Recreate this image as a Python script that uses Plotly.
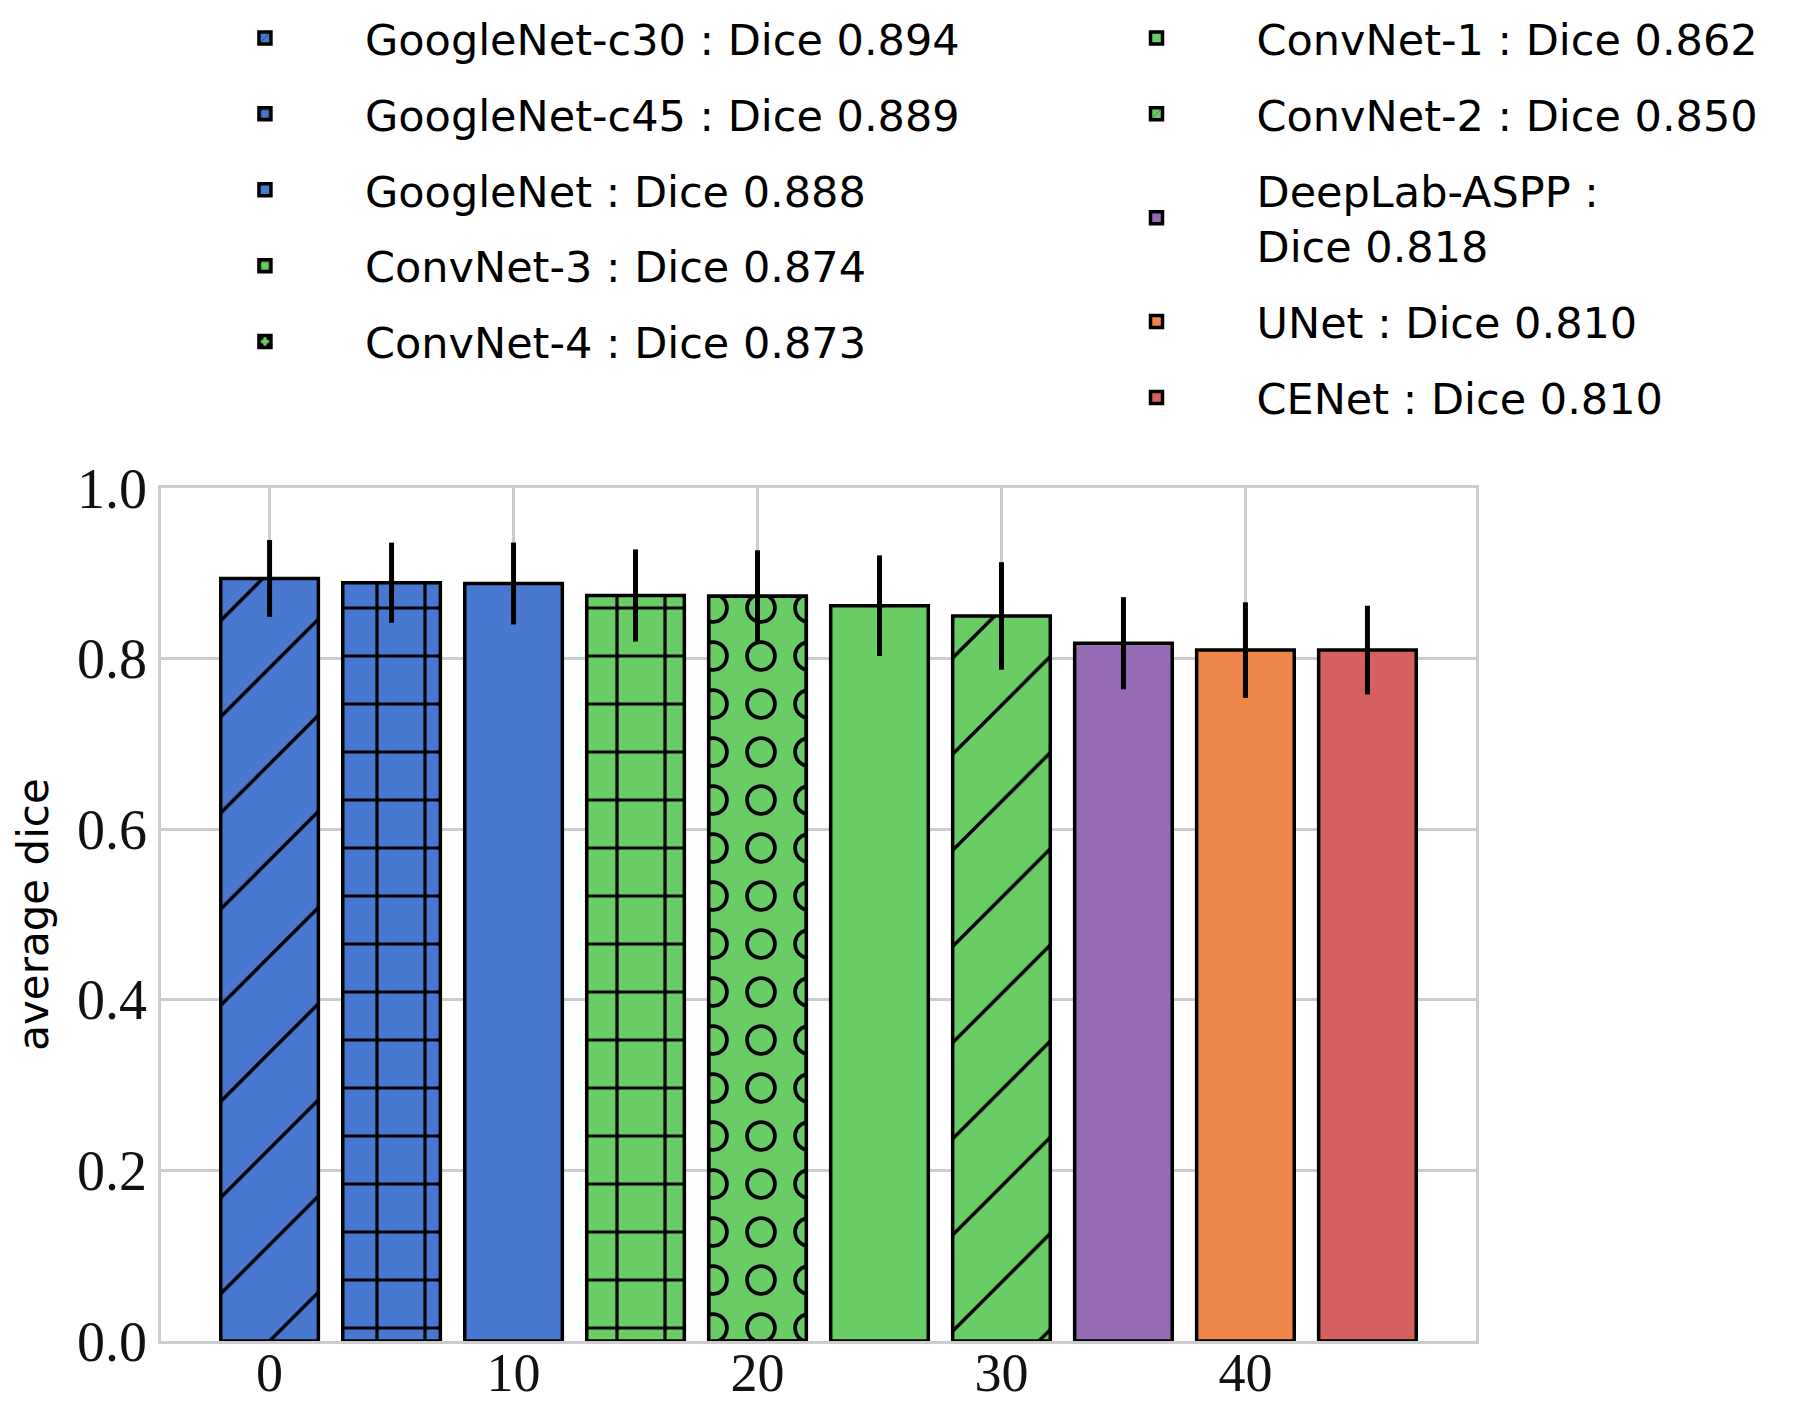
import plotly.graph_objects as go

# ---------------- data ----------------
models = ["GoogleNet-c30", "GoogleNet-c45", "GoogleNet", "ConvNet-3", "ConvNet-4",
          "ConvNet-1", "ConvNet-2", "DeepLab-ASPP", "UNet", "CENet"]
x_pos = [0, 5, 10, 15, 20, 25, 30, 35, 40, 45]
dice = [0.894, 0.889, 0.888, 0.874, 0.873, 0.862, 0.850, 0.818, 0.810, 0.810]
dice_err = [0.045, 0.047, 0.048, 0.054, 0.054, 0.059, 0.063, 0.054, 0.056, 0.052]
legend_labels = [
    "GoogleNet-c30 : Dice 0.894",
    "GoogleNet-c45 : Dice 0.889",
    "GoogleNet : Dice 0.888",
    "ConvNet-3 : Dice 0.874",
    "ConvNet-4 : Dice 0.873",
    "ConvNet-1 : Dice 0.862",
    "ConvNet-2 : Dice 0.850",
    "DeepLab-ASPP :<br>Dice 0.818",
    "UNet : Dice 0.810",
    "CENet : Dice 0.810",
]
legend_column = [1, 1, 1, 1, 1, 2, 2, 2, 2, 2]
x_ticks = [0, 10, 20, 30, 40]
y_ticks = [0.0, 0.2, 0.4, 0.6, 0.8, 1.0]

# ---------------- style ----------------
BLUE, GREEN, PURPLE, ORANGE, RED = "#4878d0", "#6acc64", "#956cb4", "#ee854a", "#d65f5f"
bar_colors = [BLUE, BLUE, BLUE, GREEN, GREEN, GREEN, GREEN, PURPLE, ORANGE, RED]
hatches = ["/", "+", "", "+", "o", "", "/", "", "", ""]
HATCH = {
    "/": dict(shape="/", size=68, solidity=0.05),
    "+": dict(shape="+", size=48, solidity=0.13),
    "o": dict(shape=".", size=48, solidity=0.34),
    "": dict(shape=""),
}
RING_INNER_SOLIDITY = 0.196
BAR_WIDTH = 4
EDGE = dict(color="black", width=3.5)
GRID = "#cccccc"
# page body has an 8px margin: shrink the figure so it fits the 1800x1407 window
PAGE_OFFSET = 8
FIG_W, FIG_H = 1800 - PAGE_OFFSET, 1407 - PAGE_OFFSET

fig = go.Figure()
for i, (name, x, y, err, col, h, lab, lc) in enumerate(
        zip(models, x_pos, dice, dice_err, bar_colors, hatches, legend_labels, legend_column)):
    pat = dict(HATCH[h])
    if pat["shape"]:
        pat.update(fgcolor="black", bgcolor=col, fillmode="overlay", fgopacity=1)
    ring = h == "o"
    err_spec = dict(type="data", array=[err], color="black", thickness=5, width=0)
    fig.add_trace(go.Bar(
        x=[x], y=[y], width=BAR_WIDTH, name=lab,
        marker=dict(color=col, line=EDGE, pattern=pat),
        error_y=(dict(visible=False) if ring else err_spec),
        legend="legend" if lc == 1 else "legend2",
        legendgroup=name, showlegend=True,
    ))
    if ring:
        # hollow the dots into rings with a second, transparent overlay
        fig.add_trace(go.Bar(
            x=[x], y=[y], width=BAR_WIDTH, name=lab,
            marker=dict(color="rgba(0,0,0,0)", line=EDGE,
                        pattern=dict(shape=".", size=HATCH["o"]["size"],
                                     solidity=RING_INNER_SOLIDITY, fgcolor=col,
                                     bgcolor="rgba(0,0,0,0)", fillmode="overlay",
                                     fgopacity=1)),
            error_y=err_spec, showlegend=False, legendgroup=name,
            legend="legend",
        ))

legend_common = dict(
    xanchor="left", yanchor="top", itemwidth=190,
    font=dict(family="DejaVu Sans", size=43, color="black"),
    tracegroupgap=17, bgcolor="rgba(0,0,0,0)", borderwidth=0,
)
fig.update_layout(
    width=FIG_W, height=FIG_H,
    barmode="overlay",
    plot_bgcolor="white", paper_bgcolor="white",
    margin=dict(l=161 - PAGE_OFFSET, r=324, t=488 - PAGE_OFFSET, b=66, autoexpand=False),
    legend=dict(x=0.003, y=1.568, **legend_common),
    legend2=dict(x=0.681, y=1.568, **legend_common),
)
fig.update_xaxes(
    range=[-4.45, 49.45], tickvals=x_ticks,
    showgrid=True, gridcolor=GRID, gridwidth=2.5,
    showline=True, mirror=True, linecolor=GRID, linewidth=2.5,
    zeroline=False, ticks="", ticklabelstandoff=-18,
    tickfont=dict(family="Liberation Serif", size=54, color="#111111"),
)
fig.update_yaxes(
    range=[0, 1], tickvals=y_ticks, tickformat=".1f",
    showgrid=True, gridcolor=GRID, gridwidth=2.5,
    showline=True, mirror=True, linecolor=GRID, linewidth=2.5,
    zeroline=False, ticks="",
    tickfont=dict(family="Liberation Serif", size=56, color="#111111"),
    title=dict(text="average dice", font=dict(family="DejaVu Sans", size=42, color="black"),
               standoff=16),
)
fig.write_html("out.html")
